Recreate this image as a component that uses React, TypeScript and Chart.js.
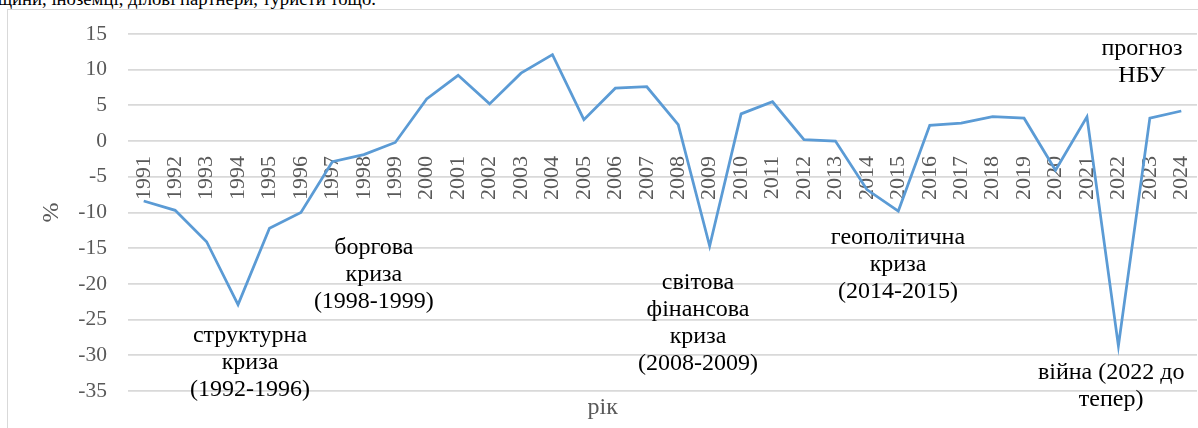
import React, { useEffect, useRef } from "react";
import { Chart, registerables } from "chart.js";

Chart.register(...registerables);

const years = [
  "1991", "1992", "1993", "1994", "1995", "1996", "1997", "1998", "1999", "2000",
  "2001", "2002", "2003", "2004", "2005", "2006", "2007", "2008", "2009", "2010",
  "2011", "2012", "2013", "2014", "2015", "2016", "2017", "2018", "2019", "2020",
  "2021", "2022", "2023", "2024",
];

const gdpGrowth = [
  -8.4, -9.7, -14.1, -22.9, -12.2, -10.0, -2.9, -1.9, -0.2, 5.9,
  9.2, 5.2, 9.5, 12.1, 3.0, 7.4, 7.6, 2.3, -14.7, 3.8,
  5.5, 0.2, 0.0, -6.8, -9.8, 2.2, 2.5, 3.4, 3.2, -4.1,
  3.4, -28.7, 3.2, 4.2,
];

const yMin = -35;
const yMax = 15;
const yStep = 5;

const yAxisTitle = "%";
const xAxisTitle = "рік";
const topText = "щини, іноземці, ділові партнери, туристи тощо.";

// annotation texts, anchored in data space (category index, value)
const annotations = [
  { lines: ["структурна", "криза", "(1992-1996)"], xi: 3.38, v: -27.2 },
  { lines: ["боргова", "криза", "(1998-1999)"], xi: 7.32, v: -15.0 },
  { lines: ["світова", "фінансова", "криза", "(2008-2009)"], xi: 17.63, v: -19.9 },
  { lines: ["геополітична", "криза", "(2014-2015)"], xi: 23.99, v: -13.5 },
  { lines: ["війна (2022 до", "тепер)"], xi: 30.77, v: -32.4 },
  { lines: ["прогноз", "НБУ"], xi: 31.75, v: 12.9 },
];

const SERIF = '"Liberation Serif", "Times New Roman", serif';
const GRAY = "#595959";

const customPlugin = {
  id: "customText",
  beforeDatasetsDraw(chart: any) {
    const { ctx, scales, chartArea } = chart;
    const x = scales.x;
    const y = scales.y;
    const y0 = y.getPixelForValue(0);
    ctx.save();
    ctx.font = `22px ${SERIF}`;
    ctx.fillStyle = GRAY;
    ctx.textAlign = "right";
    ctx.textBaseline = "middle";
    years.forEach((yr, i) => {
      const px = x.getPixelForValue(i);
      ctx.save();
      ctx.translate(px, y0 + 15);
      ctx.rotate(-Math.PI / 2);
      ctx.fillText(yr, 0, 0);
      ctx.restore();
    });
    // y axis title
    ctx.font = `24px ${SERIF}`;
    ctx.textAlign = "center";
    ctx.save();
    ctx.translate(52, (chartArea.top + chartArea.bottom) / 2);
    ctx.rotate(-Math.PI / 2);
    ctx.fillText(yAxisTitle, 0, 0);
    ctx.restore();
    // x axis title
    ctx.fillText(xAxisTitle, x.getPixelForValue(14.6), chartArea.bottom + 17);
    ctx.restore();
  },
  afterDraw(chart: any) {
    const { ctx, scales } = chart;
    const x = scales.x;
    const y = scales.y;
    ctx.save();
    ctx.font = `24px ${SERIF}`;
    ctx.fillStyle = "#000000";
    ctx.textAlign = "center";
    ctx.textBaseline = "middle";
    annotations.forEach((a) => {
      const px = x.getPixelForValue(a.xi);
      const py = y.getPixelForValue(a.v);
      a.lines.forEach((ln, k) => {
        ctx.fillText(ln, px, py + k * 27);
      });
    });
    ctx.restore();
  },
};

export default function App() {
  const canvasRef = useRef<HTMLCanvasElement | null>(null);

  useEffect(() => {
    const canvas = canvasRef.current;
    if (!canvas) return;
    const chart = new Chart(canvas, {
      type: "line",
      data: {
        labels: years,
        datasets: [
          {
            data: gdpGrowth,
            borderColor: "#5B9BD5",
            backgroundColor: "#5B9BD5",
            borderWidth: 2.75,
            pointRadius: 0,
            tension: 0,
            fill: false,
          },
        ],
      },
      options: {
        animation: false,
        responsive: false,
        devicePixelRatio: 1,
        layout: { padding: { left: 0, right: 1, top: 31, bottom: 0 } },
        plugins: {
          legend: { display: false },
          tooltip: { enabled: false },
          title: { display: false },
        },
        scales: {
          x: {
            type: "category",
            offset: true,
            grid: { display: false },
            border: { display: false },
            ticks: { display: false },
            afterFit: (s: any) => {
              s.height = 37;
            },
          },
          y: {
            min: yMin,
            max: yMax,
            grid: { color: "#D9D9D9", lineWidth: 1.75, drawTicks: false },
            border: { display: false },
            ticks: {
              stepSize: yStep,
              padding: 21,
              color: GRAY,
              font: { family: SERIF, size: 21.5 },
            },
            afterFit: (s: any) => {
              s.width = 128;
            },
          },
        },
      },
      plugins: [customPlugin],
    });
    return () => chart.destroy();
  }, []);

  return (
    <div
      style={{
        position: "fixed",
        left: 0,
        top: 0,
        width: 1198,
        height: 428,
        overflow: "hidden",
        background: "#ffffff",
      }}
    >
      <div
        style={{
          position: "absolute",
          right: 1198 - 376,
          top: -13,
          whiteSpace: "nowrap",
          fontFamily: SERIF,
          fontSize: 18.7,
          lineHeight: "24px",
          color: "#000",
        }}
      >
        {topText}
      </div>
      <div
        style={{
          position: "absolute",
          left: 7,
          top: 9,
          width: 1260,
          height: 460,
          border: "1px solid #D9D9D9",
          boxSizing: "border-box",
        }}
      />
      <canvas
        ref={canvasRef}
        width={1198}
        height={428}
        style={{ position: "absolute", left: 0, top: 0, display: "block" }}
      />
    </div>
  );
}
